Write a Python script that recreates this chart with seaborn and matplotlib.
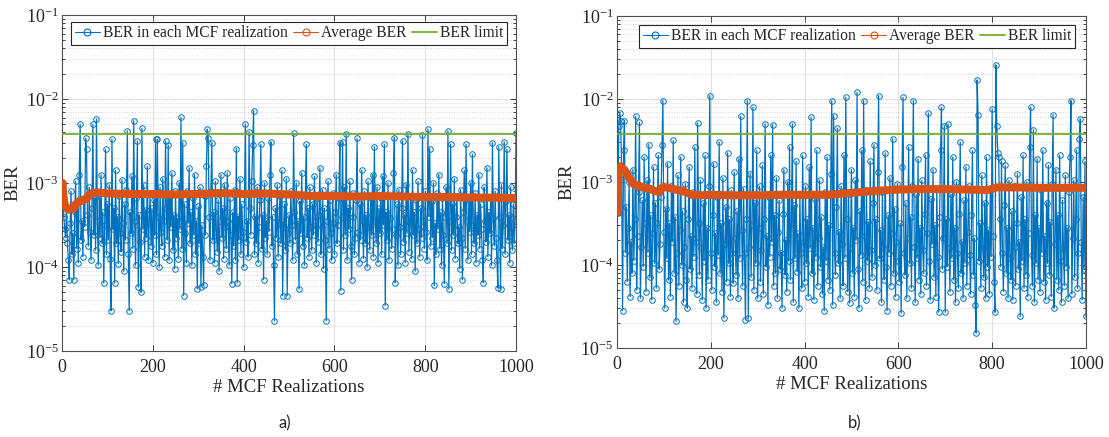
import numpy as np
import pandas as pd
import matplotlib
matplotlib.use('Agg')
import matplotlib.pyplot as plt
from matplotlib.lines import Line2D
import seaborn as sns

# BER of every 2nd MCF realization, written as -100*log10(BER)
# (300 -> 1e-3, 400 -> 1e-4), one row = 50 realizations
ber_a_code = [
    300, 340, 355, 365, 330, 372, 392, 415, 348, 310, 385, 360, 415, 335, 298, 378, 322, 395, 290, 230, 368, 345, 388, 318, 352,
    247, 260, 338, 375, 305, 358, 392, 330, 230, 362, 318, 380, 224, 345, 398, 312, 365, 290, 372, 335, 419, 350, 260, 385, 325,
    368, 302, 390, 452, 248, 355, 330, 419, 285, 372, 340, 396, 315, 360, 382, 296, 348, 405, 325, 368, 308, 238, 385, 452, 335,
    360, 292, 378, 226, 345, 398, 318, 250, 424, 338, 370, 430, 235, 355, 302, 388, 332, 365, 280, 392, 348, 312, 375, 330, 395,
    320, 362, 248, 385, 248, 340, 400, 305, 358, 375, 295, 345, 388, 250, 330, 368, 255, 392, 315, 352, 288, 380, 338, 402, 310,
    365, 342, 390, 300, 355, 222, 378, 252, 434, 325, 360, 395, 310, 348, 282, 372, 335, 398, 318, 362, 290, 385, 345, 426, 328,
    372, 305, 424, 350, 388, 422, 315, 362, 280, 236, 246, 340, 392, 310, 252, 368, 335, 395, 298, 358, 382, 320, 405, 345, 290,
    365, 330, 390, 302, 352, 378, 288, 345, 398, 318, 362, 420, 335, 375, 308, 392, 259, 419, 340, 368, 295, 385, 325, 358, 400,
    312, 230, 370, 345, 388, 239, 330, 362, 298, 255, 214, 385, 340, 372, 305, 395, 352, 320, 254, 378, 338, 415, 300, 365, 345,
    385, 318, 358, 290, 251, 375, 340, 398, 464, 330, 365, 302, 388, 348, 315, 372, 285, 434, 352, 325, 380, 295, 434, 360, 338,
    372, 310, 350, 392, 241, 335, 368, 300, 385, 345, 426, 322, 360, 288, 375, 340, 398, 315, 254, 365, 330, 388, 305, 352, 380,
    325, 362, 292, 345, 395, 318, 370, 338, 282, 385, 352, 308, 402, 330, 368, 464, 345, 298, 378, 320, 360, 392, 312, 348, 385,
    335, 290, 372, 350, 318, 252, 428, 340, 251, 380, 305, 362, 242, 392, 330, 355, 298, 375, 415, 340, 312, 385, 365, 320, 247,
    358, 395, 325, 368, 285, 345, 390, 310, 372, 338, 400, 298, 352, 380, 318, 362, 290, 388, 257, 345, 372, 305, 395, 330, 360,
    318, 385, 292, 350, 254, 446, 335, 368, 300, 392, 342, 315, 378, 355, 288, 246, 419, 362, 325, 398, 308, 352, 385, 330, 250,
    370, 338, 395, 302, 360, 242, 382, 348, 315, 390, 285, 362, 335, 405, 320, 372, 298, 355, 388, 330, 365, 243, 345, 378, 310,
    358, 392, 236, 340, 259, 375, 322, 365, 300, 422, 348, 385, 312, 355, 290, 378, 335, 398, 318, 362, 420, 340, 305, 372, 238,
    426, 345, 254, 380, 325, 362, 295, 390, 340, 315, 372, 352, 402, 308, 365, 415, 335, 285, 378, 254, 345, 392, 320, 358, 300,
    385, 266, 350, 372, 312, 395, 338, 362, 290, 378, 325, 355, 392, 419, 305, 345, 370, 282, 388, 335, 360, 318, 398, 252, 342,
    375, 310, 365, 392, 425, 257, 340, 426, 302, 378, 350, 251, 385, 322, 260, 368, 338, 395, 305, 358, 380, 325, 372, 345, 240,
]
ber_b_code = [
    337, 232, 217, 226, 290, 455, 262, 226, 385, 330, 420, 355, 300, 438, 372, 410, 285, 395, 345, 221, 430, 365, 312, 228, 440,
    378, 322, 402, 270, 350, 432, 298, 385, 255, 415, 340, 442, 362, 282, 398, 325, 428, 350, 268, 405, 375, 318, 255, 202, 360,
    452, 332, 392, 278, 418, 350, 438, 305, 372, 250, 410, 342, 468, 385, 292, 425, 358, 270, 400, 335, 445, 378, 302, 418, 452,
    345, 282, 405, 365, 428, 312, 390, 258, 372, 435, 229, 350, 412, 298, 380, 442, 325, 395, 268, 452, 355, 418, 305, 196, 385,
    430, 340, 278, 402, 362, 445, 318, 388, 252, 410, 350, 432, 295, 464, 375, 330, 420, 265, 398, 345, 438, 310, 385, 422, 288,
    368, 412, 335, 440, 272, 392, 221, 358, 425, 308, 385, 466, 345, 202, 464, 378, 290, 415, 352, 210, 430, 325, 398, 262, 440,
    355, 305, 420, 382, 280, 435, 345, 230, 402, 365, 448, 318, 390, 268, 372, 231, 425, 340, 410, 295, 440, 360, 322, 405, 385,
    452, 338, 285, 412, 370, 432, 300, 395, 258, 418, 350, 230, 445, 328, 392, 275, 408, 362, 452, 315, 385, 428, 268, 372, 420,
    305, 398, 345, 438, 282, 380, 222, 410, 355, 442, 320, 390, 262, 425, 368, 298, 402, 342, 435, 378, 455, 312, 395, 270, 418,
    352, 430, 290, 202, 448, 220, 385, 412, 330, 235, 398, 360, 440, 305, 375, 425, 268, 392, 198, 345, 432, 315, 446, 380, 285,
    410, 355, 438, 298, 370, 192, 405, 452, 335, 388, 262, 420, 202, 365, 442, 310, 395, 348, 428, 275, 382, 415, 325, 255, 400,
    345, 430, 288, 196, 392, 358, 445, 312, 378, 418, 265, 402, 455, 340, 385, 295, 425, 362, 248, 410, 332, 438, 372, 302, 395,
    420, 350, 458, 282, 198, 385, 412, 325, 440, 368, 258, 398, 342, 428, 305, 202, 378, 445, 315, 392, 272, 418, 355, 435, 298,
    382, 410, 338, 268, 425, 362, 217, 395, 442, 320, 375, 285, 415, 352, 438, 308, 390, 457, 342, 262, 210, 405, 368, 232, 457,
    345, 402, 230, 380, 432, 315, 392, 270, 418, 355, 445, 300, 385, 428, 338, 252, 410, 372, 440, 322, 398, 282, 425, 360, 305,
    388, 435, 340, 262, 412, 368, 448, 482, 177, 219, 395, 350, 428, 292, 380, 415, 325, 440, 270, 402, 358, 435, 310, 390, 212,
    365, 420, 457, 159, 233, 265, 270, 345, 402, 275, 385, 432, 328, 280, 410, 355, 440, 298, 392, 418, 335, 442, 305, 378, 425,
    350, 290, 405, 372, 462, 318, 395, 268, 428, 345, 412, 300, 438, 362, 258, 210, 388, 425, 237, 445, 340, 398, 272, 418, 355,
    432, 310, 385, 262, 420, 365, 442, 325, 398, 280, 412, 348, 438, 302, 219, 452, 375, 285, 418, 340, 430, 268, 395, 445, 322,
    380, 425, 292, 402, 355, 440, 312, 270, 202, 435, 368, 298, 415, 345, 262, 428, 385, 248, 224, 372, 442, 318, 405, 275, 462,
]

# running average BER, read at selected realizations
avg_a_x = [1, 3, 6, 10, 15, 20, 25, 30, 35, 40, 45, 50, 55, 60, 65, 70, 80, 100, 150, 200,
           250, 300, 350, 400, 450, 500, 550, 600, 650, 700, 750, 800, 850, 900, 950, 1000]
avg_a = [1.0e-3, 7.0e-4, 5.5e-4, 5.0e-4, 4.8e-4, 5.0e-4, 4.9e-4, 5.6e-4, 5.8e-4, 6.2e-4,
         6.1e-4, 6.4e-4, 6.6e-4, 7.2e-4, 7.4e-4, 7.6e-4, 7.7e-4, 7.5e-4, 7.4e-4, 7.4e-4,
         7.3e-4, 7.4e-4, 7.6e-4, 7.4e-4, 7.5e-4, 7.3e-4, 7.0e-4, 7.0e-4, 6.9e-4, 7.0e-4,
         6.9e-4, 6.8e-4, 6.8e-4, 6.7e-4, 6.7e-4, 6.6e-4]
avg_b_x = [1, 3, 5, 8, 12, 16, 20, 25, 30, 35, 40, 45, 50, 60, 70, 80, 90, 95, 100, 110,
           125, 140, 160, 180, 200, 250, 300, 350, 400, 450, 500, 550, 600, 650, 700, 750,
           790, 810, 850, 900, 950, 1000]
avg_b = [4.3e-4, 1.2e-3, 1.5e-3, 1.55e-3, 1.45e-3, 1.4e-3, 1.3e-3, 1.15e-3, 1.05e-3, 9.5e-4,
         9.0e-4, 9.2e-4, 8.8e-4, 8.5e-4, 8.3e-4, 7.8e-4, 7.6e-4, 8.4e-4, 8.7e-4, 8.5e-4,
         8.1e-4, 7.8e-4, 7.0e-4, 6.9e-4, 7.0e-4, 6.9e-4, 6.9e-4, 7.0e-4, 7.0e-4, 7.0e-4,
         7.4e-4, 7.8e-4, 8.1e-4, 8.2e-4, 8.2e-4, 8.1e-4, 8.0e-4, 8.6e-4, 8.6e-4, 8.5e-4,
         8.5e-4, 8.5e-4]

ber_limit = 3.8e-3
step = 2
labels = ['BER in each MCF realization', 'Average BER', 'BER limit']

BLUE = '#0072BD'
ORANGE = '#D95319'
GREEN = '#77AC30'

sns.set_style('ticks')
plt.rcParams['font.family'] = ['Liberation Serif', 'DejaVu Serif']
plt.rcParams['mathtext.default'] = 'regular'


def draw_panel(ax, codes, avg_x, avg_y, leg_anchor):
    df = pd.DataFrame({'realization': np.arange(1, len(codes) + 1) * step,
                       'ber': 10.0 ** (-np.array(codes) / 100.0)})
    ax.set_yscale('log')
    sns.lineplot(data=df, x='realization', y='ber', ax=ax, color=BLUE, lw=0.9,
                 marker='o', markersize=4.0, markerfacecolor='none',
                 markeredgecolor=BLUE, markeredgewidth=0.7,
                 estimator=None, sort=False, legend=False, zorder=2)
    sns.lineplot(x=avg_x, y=avg_y, ax=ax, color=ORANGE, lw=5.8,
                 estimator=None, sort=False, legend=False, zorder=3,
                 solid_capstyle='round')
    ax.axhline(ber_limit, color=GREEN, lw=1.3, zorder=4)

    ax.set_xlim(0, 1000)
    ax.set_ylim(1e-5, 1e-1)
    ax.set_xticks(range(0, 1001, 200))
    ax.grid(which='major', color='#e0e0e0', lw=0.7, ls='-')
    ax.yaxis.grid(which='minor', color='#d6d6d6', lw=0.7, ls=':')
    ax.set_axisbelow(True)
    ax.tick_params(which='both', direction='in', top=True, right=True,
                   labelsize=13, colors='#262626', width=0.6)
    ax.tick_params(which='major', length=4)
    ax.tick_params(which='minor', length=2)
    ax.tick_params(axis='x', pad=6)
    ax.tick_params(axis='y', pad=2.5)
    for s in ax.spines.values():
        s.set_color('#505050')
        s.set_linewidth(0.8)
    ax.set_xlabel('# MCF Realizations', fontsize=13.5, labelpad=2)
    ax.set_ylabel('BER', fontsize=13.5, labelpad=3)

    handles = [Line2D([], [], color=BLUE, lw=0.8, marker='o', ms=5, mfc='none', mew=0.8),
               Line2D([], [], color=ORANGE, lw=0.8, marker='o', ms=5, mfc='none', mew=0.8),
               Line2D([], [], color=GREEN, lw=1.3)]
    leg = ax.legend(handles, labels, loc='upper center', bbox_to_anchor=leg_anchor,
                    ncol=3, fontsize=11.2, frameon=True, fancybox=False,
                    edgecolor='#262626', framealpha=1, borderpad=0.22,
                    handlelength=1.6, handletextpad=0.2, columnspacing=0.35,
                    borderaxespad=0)
    leg.get_frame().set_linewidth(0.8)
    leg.set_zorder(10)


fig = plt.figure(figsize=(11.09, 4.37), dpi=100)
ax_a = fig.add_axes([0.0559, 0.1968, 0.4094, 0.769])
ax_b = fig.add_axes([0.5563, 0.2037, 0.4229, 0.7597])

draw_panel(ax_a, ber_a_code, avg_a_x, avg_a, (0.5, 0.979))
draw_panel(ax_b, ber_b_code, avg_b_x, avg_b, (0.512, 0.973))

fig.text(285 / 1109, 1 - 423 / 437, 'a)', family='Lato', fontsize=12,
         ha='center', va='center')
fig.text(855 / 1109, 1 - 423 / 437, 'b)', family='Lato', fontsize=12,
         ha='center', va='center')

fig.savefig('out.png', dpi=100)
